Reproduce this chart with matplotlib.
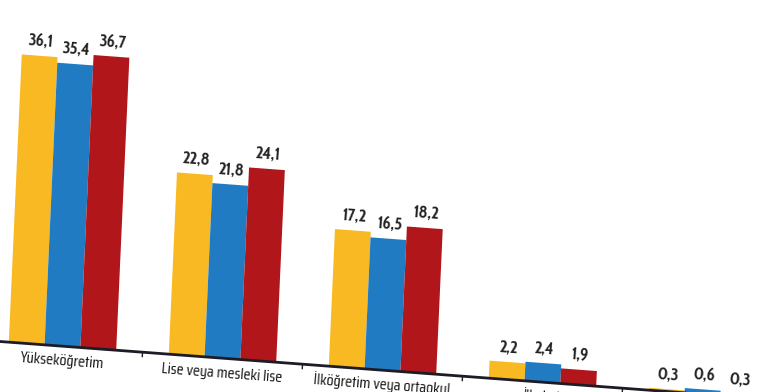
import os
import matplotlib
matplotlib.use("Agg")
import matplotlib.pyplot as plt
from matplotlib.transforms import Affine2D
from matplotlib import font_manager as fm
import numpy as np

# ---- data ----
categories = ["Yükseköğretim", "Lise veya mesleki lise", "İlköğretim veya ortaokul",
              "İlkokul", "Okuma yazma bilen fakat bir okul bitirmeyen"]
series_a = [36.1, 22.8, 17.2, 2.2, 0.3]   # yellow
series_b = [35.4, 21.8, 16.5, 2.4, 0.6]   # blue
series_c = [36.7, 24.1, 18.2, 1.9, 0.3]   # red

colors = ["#F9B923", "#217BC2", "#B0161A"]

W, H = 763, 392
Y0 = 50.5            # baseline height in display px (before shear)
PX_PER_UNIT = 7.97
PITCH = 160.0
FIRST = 62.5

fig = plt.figure(figsize=(W / 100, H / 100), dpi=100)
renderer = fig.canvas.get_renderer()


def width_of(fp, sample, size):
    t = fig.text(0, 0, sample, fontproperties=fp, fontsize=size)
    w = t.get_window_extent(renderer).width
    t.remove()
    return w


def candidates(bold):
    out = []
    for f in fm.fontManager.ttflist:
        b = os.path.basename(f.fname)
        if not ("Narrow" in b or "Condensed" in b):
            continue
        if any(k in b for k in ("Italic", "Light", "Thin", "Black", "Medium", "Semi",
                                 "ExtraBold", "Oblique")):
            continue
        if bold != ("Bold" in b):
            continue
        out.append(fm.FontProperties(fname=f.fname))
    return out


def choose(bold, sample, size, target):
    best, err = None, 1e9
    for fp in candidates(bold):
        try:
            w = width_of(fp, sample, size)
        except Exception:
            continue
        if abs(w - target) < err:
            best, err = fp, abs(w - target)
    if best is None:
        best = fm.FontProperties(family="DejaVu Sans", weight="bold" if bold else "normal")
    return best


fp_val = choose(True, "36,1", 12.3, 25.5)
fp_cat = choose(False, "Yükseköğretim", 11.3, 84)
size_val = max(min(12.3 * 25.5 / width_of(fp_val, "36,1", 12.3), 12.5), 10.5)
size_cat = max(min(11.3 * 84 / width_of(fp_cat, "Yükseköğretim", 11.3), 11.5), 10)

ax = fig.add_axes([0, Y0 / H, 1, (H - Y0) / H])
ax.axis("off")
xmin = -FIRST / PITCH
ax.set_xlim(xmin, xmin + W / PITCH)
ax.set_ylim(0, (H - Y0) / PX_PER_UNIT)

# slight shear/rotation of the whole picture (display coordinates)
shear = (Affine2D().translate(0, -Y0)
         + Affine2D.from_values(1, -0.075, 0.045, 1, 0, 0)
         + Affine2D().translate(0, Y0))
tr = ax.transData + shear
ang = -4.3

x = np.arange(len(categories))
bw = 35.8 / PITCH
offs = [-bw, 0, bw]

for vals, col, off in zip([series_a, series_b, series_c], colors, offs):
    ax.bar(x + off, vals, width=bw, color=col, linewidth=0,
           transform=tr, clip_on=False)
    for xi, v in zip(x + off, vals):
        ax.text(xi, v + 1.2, f"{v:.1f}".replace(".", ","), transform=tr,
                ha="center", va="baseline", rotation=ang, rotation_mode="anchor",
                fontproperties=fp_val, fontsize=size_val, color="#222222",
                clip_on=False)

# baseline axis
ax.plot([xmin - 1, xmin + W / PITCH + 1], [0, 0], color="#1c1c26", lw=2,
        transform=tr, clip_on=False, solid_capstyle="butt")
for i in range(len(categories) - 1):
    ax.plot([i + 0.5, i + 0.5], [0, -0.55], color="#1c1c26", lw=1,
            transform=tr, clip_on=False)

for xi, cat in zip(x, categories):
    ax.text(xi, -19 / PX_PER_UNIT, cat, transform=tr, ha="center", va="baseline",
            rotation=ang, rotation_mode="anchor", fontproperties=fp_cat,
            fontsize=size_cat, color="#111111", clip_on=False)

fig.savefig("out.png", dpi=100, facecolor="white")
